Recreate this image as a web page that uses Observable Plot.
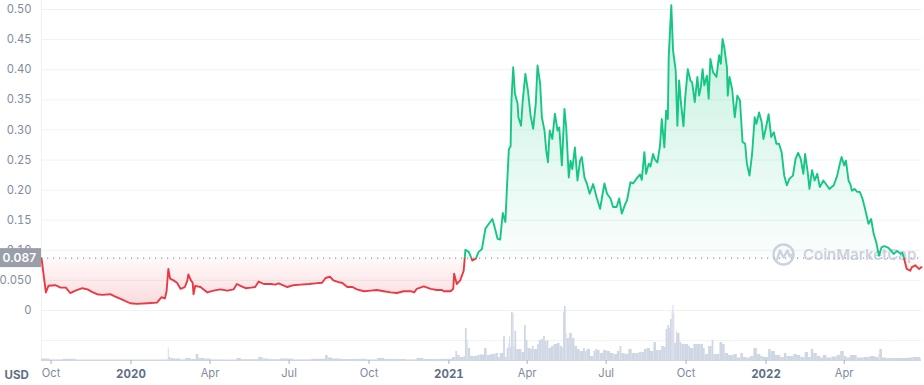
<!DOCTYPE html>
<html><head><meta charset="utf-8">
<script src="https://cdn.jsdelivr.net/npm/d3@7"></script>
<script src="https://cdn.jsdelivr.net/npm/@observablehq/plot@0.6"></script>
<style>
html,body{margin:0;padding:0;background:#fff;}
#chart svg{display:block;}
</style></head><body><div id="chart"></div>
<script>
// ---------- data ----------
const startDate = "2019-09-20";
const endDate = "2022-06-29";
// days since startDate
const priceDay = [0,5,8,16,22,28,33,39,47,53,58,64,70,79,85,93,102,110,122,133,138,142,144,146,148,152,156,160,165,168,169,172,174,175,177,183,191,198,206,214,221,225,229,235,241,246,250,256,264,269,273,283,290,298,308,315,323,327,332,336,342,346,352,358,363,371,379,386,394,402,409,417,425,429,432,440,448,455,461,463,471,474,475,478,482,486,488,492,496,500,503,507,511,515,519,521,525,528,531,534,536,538,540,541,543,545,548,549,552,554,557,560,563,566,569,571,574,576,579,581,583,585,588,591,594,596,599,602,604,607,609,611,614,617,620,622,625,628,631,635,639,643,648,651,655,658,662,665,668,672,674,678,681,685,689,691,694,696,699,701,704,706,709,712,714,717,719,721,722,725,727,730,732,734,736,739,741,744,747,749,752,755,757,759,761,763,766,768,770,773,777,780,782,784,786,789,790,792,795,798,801,804,807,810,812,815,818,821,823,826,829,831,834,837,840,843,846,849,852,855,858,861,865,868,871,874,877,879,882,884,887,890,893,896,900,904,907,912,916,919,921,924,926,929,931,933,936,939,942,945,948,952,955,958,961,964,967,970,974,977,981,985,989,991,993,996,1000,1002,1006,1010,1013];
const priceUsd = [0.087,0.030,0.041,0.042,0.038,0.038,0.029,0.033,0.037,0.035,0.031,0.027,0.026,0.027,0.023,0.018,0.012,0.011,0.012,0.013,0.022,0.020,0.032,0.069,0.053,0.050,0.046,0.036,0.039,0.050,0.060,0.050,0.046,0.027,0.041,0.039,0.030,0.033,0.035,0.033,0.035,0.044,0.041,0.037,0.038,0.039,0.048,0.044,0.044,0.043,0.045,0.039,0.042,0.043,0.044,0.045,0.046,0.054,0.056,0.050,0.047,0.046,0.039,0.039,0.035,0.032,0.033,0.034,0.032,0.030,0.029,0.032,0.032,0.030,0.036,0.040,0.036,0.034,0.034,0.032,0.032,0.036,0.061,0.044,0.050,0.066,0.101,0.097,0.083,0.086,0.097,0.102,0.136,0.144,0.152,0.142,0.119,0.118,0.162,0.147,0.210,0.268,0.273,0.349,0.404,0.360,0.344,0.321,0.307,0.349,0.393,0.365,0.324,0.302,0.344,0.407,0.377,0.321,0.299,0.266,0.246,0.299,0.285,0.327,0.299,0.304,0.241,0.335,0.304,0.221,0.249,0.235,0.271,0.216,0.249,0.255,0.221,0.210,0.194,0.210,0.188,0.169,0.211,0.194,0.186,0.172,0.172,0.186,0.161,0.177,0.183,0.213,0.211,0.219,0.226,0.217,0.263,0.227,0.244,0.239,0.260,0.251,0.246,0.274,0.318,0.271,0.332,0.318,0.421,0.507,0.432,0.399,0.307,0.382,0.346,0.306,0.354,0.401,0.382,0.379,0.346,0.388,0.357,0.371,0.401,0.374,0.390,0.352,0.418,0.396,0.388,0.424,0.410,0.451,0.437,0.404,0.357,0.388,0.368,0.321,0.357,0.349,0.280,0.277,0.244,0.224,0.260,0.321,0.310,0.329,0.313,0.285,0.304,0.326,0.288,0.296,0.277,0.277,0.263,0.224,0.208,0.219,0.224,0.252,0.262,0.252,0.227,0.260,0.230,0.202,0.233,0.216,0.227,0.205,0.216,0.208,0.202,0.208,0.224,0.244,0.255,0.241,0.249,0.216,0.210,0.199,0.202,0.197,0.197,0.186,0.169,0.144,0.152,0.127,0.113,0.091,0.105,0.107,0.105,0.101,0.094,0.099,0.094,0.096,0.086,0.069,0.066,0.072,0.075,0.069,0.072];
const volumeDay = [0,10,25,40,70,100,130,143,146,147,149,152,160,166,172,178,181,188,195,210,225,230,250,255,262,275,290,311,327,330,335,345,364,375,387,395,420,432,440,459,473,477,479,482,486,488,490,491,494,498,502,505,510,513,517,523,526,528,532,534,536,538,539,540,541,543,544,545,547,549,553,556,558,560,563,565,567,571,573,576,578,580,582,584,587,590,594,597,600,601,602,604,605,608,611,614,617,620,624,626,628,632,636,638,640,643,647,651,655,659,663,666,668,672,676,680,684,688,691,694,697,701,705,708,711,714,717,719,721,723,724,726,727,728,729,731,732,735,737,741,745,747,751,755,759,762,764,768,772,774,778,781,784,787,791,797,801,805,808,812,816,820,824,828,831,837,840,845,851,855,858,866,870,874,879,883,886,889,893,897,900,904,910,916,920,924,927,931,939,947,954,960,964,965,968,973,981,989,997,1003,1012];
// millions of USD
const volumeUsdM = [15,6,12,5,5,5,5,6,125,30,20,15,6,20,10,60,20,15,6,5,20,8,30,15,8,15,6,12,50,25,15,10,12,6,20,10,6,20,10,12,30,90,50,30,35,320,200,120,40,40,50,55,120,50,60,70,30,70,240,30,120,170,240,130,480,460,140,290,110,110,80,350,200,120,110,140,110,160,200,210,240,190,200,120,140,160,170,140,120,480,540,270,220,270,220,140,110,90,120,90,110,40,90,110,100,70,100,90,70,60,90,140,70,60,110,70,70,80,80,110,120,90,180,100,100,140,130,310,350,320,410,490,550,470,170,290,270,180,160,160,140,120,160,160,160,120,60,140,200,60,60,180,160,70,50,60,25,70,30,25,40,120,60,40,30,110,90,50,30,70,40,60,50,30,80,30,110,70,40,25,50,25,35,50,90,40,25,50,25,30,40,30,60,110,25,20,20,20,25,30,15];
const baselinePrice = 0.087;
const yTickValues = [-0.05,0,0.05,0.10,0.15,0.20,0.25,0.30,0.35,0.40,0.45,0.50];
const yTickLabels = ["","0","0.050","0.10","0.15","0.20","0.25","0.30","0.35","0.40","0.45","0.50"];
const monthTickDates = ["2019-10-01","2020-04-01","2020-07-01","2020-10-01","2021-04-01","2021-07-01","2021-10-01","2022-04-01"];
const monthTickLabels = ["Oct","Apr","Jul","Oct","Apr","Jul","Oct","Apr"];
const yearTickDates = ["2020-01-01","2021-01-01","2022-01-01"];
const yearTickLabels = ["2020","2021","2022"];
const currencyLabel = "USD";
const watermarkText = "CoinMarketCap";

// ---------- build ----------
const parse = d3.utcParse("%Y-%m-%d");
const t0 = parse(startDate);
const price = priceDay.map((d, i) => ({date: d3.utcDay.offset(t0, d), value: priceUsd[i]}));
const volume = volumeDay.map((d, i) => ({
  x1: d3.utcDay.offset(t0, d),
  x2: d3.utcDay.offset(t0, i + 1 < volumeDay.length ? volumeDay[i + 1] : d + 1),
  v: volumeUsdM[i]
}));
const yMin = -0.0831, yMax = 0.515;
// volume band sits under the price axis: 600 M USD spans 0.1 price units
const volToY = d3.scaleLinear().domain([0, 600]).range([yMin, yMin + 0.1]);

const yLabelMap = new Map(yTickValues.map((v, i) => [Math.round(v * 1000), yTickLabels[i]]));
const monthMap = new Map(monthTickDates.map((d, i) => [+parse(d), monthTickLabels[i]]));
const yearMap = new Map(yearTickDates.map((d, i) => [+parse(d), yearTickLabels[i]]));

const GREEN = "#16c784", RED = "#ea3943";
const FONT = "Inter, 'Noto Sans', sans-serif";

const plot = Plot.plot({
  width: 924, height: 385,
  marginLeft: 41, marginRight: 3, marginTop: 0, marginBottom: 25,
  style: {fontFamily: FONT, fontSize: "11px", background: "#fff", overflow: "visible"},
  x: {type: "utc", domain: [parse(startDate), parse(endDate)], axis: null},
  y: {domain: [yMin, yMax], axis: null},
  marks: [
    Plot.ruleY(yTickValues, {stroke: "#eff2f5", strokeWidth: 1}),
    Plot.ruleX([parse(startDate)], {stroke: "#eff2f5"}),
    Plot.rect(volume, {x1: "x1", x2: "x2", y1: yMin, y2: d => volToY(d.v), fill: "#cfd6e4"}),
    Plot.areaY(price, {x: "date", y1: baselinePrice, y2: "value", fill: "url(#gradGreen)"}),
    Plot.areaY(price, {x: "date", y1: baselinePrice, y2: "value", fill: "url(#gradRed)"}),
    Plot.ruleY([baselinePrice], {stroke: "#8d96a8", strokeDasharray: "1.2,4.8", strokeWidth: 1.2}),
    Plot.lineY(price, {x: "date", y: "value", stroke: GREEN, strokeWidth: 1.9}),
    Plot.lineY(price, {x: "date", y: "value", stroke: RED, strokeWidth: 1.9}),
    Plot.ruleY([yMin], {stroke: "#cfd6e4", strokeWidth: 1.2}),
    Plot.axisY(yTickValues, {tickSize: 0, tickPadding: 10, label: null,
      tickFormat: v => yLabelMap.get(Math.round(v * 1000)), fill: "#808a9d", fontSize: 11.2}),
    Plot.axisX(monthTickDates.map(parse), {tickSize: 4, tickPadding: 5, label: null,
      tickFormat: d => monthMap.get(+d), fill: "#808a9d", stroke: "#a6b0c3", fontSize: 11.2}),
    Plot.axisX(yearTickDates.map(parse), {tickSize: 4, tickPadding: 5, label: null,
      tickFormat: d => yearMap.get(+d), fill: "#616e85", stroke: "#a6b0c3", fontSize: 11.5, fontWeight: "bold"}),
    Plot.text([currencyLabel], {frameAnchor: "bottom-left", dx: -37, dy: 14.5, textAnchor: "start",
      lineAnchor: "middle", fill: "#616e85", fontWeight: "bold", fontSize: 11.5})
  ]
});

document.getElementById("chart").appendChild(plot);

// ---------- decoration: gradients, clipping, badge, watermark ----------
const svg = d3.select(plot);
const yS = plot.scale("y");
const py = yS.apply(baselinePrice);
const pZero = yS.apply(0);
const pTop = yS.apply(0.5);
const defs = svg.insert("defs", ":first-child");
const gG = defs.append("linearGradient").attr("id", "gradGreen").attr("gradientUnits", "userSpaceOnUse")
  .attr("x1", 0).attr("x2", 0).attr("y1", pTop).attr("y2", py);
gG.append("stop").attr("offset", 0).attr("stop-color", GREEN).attr("stop-opacity", 0.26);
gG.append("stop").attr("offset", 1).attr("stop-color", GREEN).attr("stop-opacity", 0.02);
const gR = defs.append("linearGradient").attr("id", "gradRed").attr("gradientUnits", "userSpaceOnUse")
  .attr("x1", 0).attr("x2", 0).attr("y1", py).attr("y2", pZero);
gR.append("stop").attr("offset", 0).attr("stop-color", RED).attr("stop-opacity", 0.03);
gR.append("stop").attr("offset", 1).attr("stop-color", RED).attr("stop-opacity", 0.2);
defs.append("clipPath").attr("id", "clipAbove").append("rect")
  .attr("x", 0).attr("y", -20).attr("width", 924).attr("height", py + 20);
defs.append("clipPath").attr("id", "clipBelow").append("rect")
  .attr("x", 0).attr("y", py).attr("width", 924).attr("height", 385 - py);

const areas = svg.selectAll('g[aria-label="area"]').nodes();
const lines = svg.selectAll('g[aria-label="line"]').nodes();
if (areas.length === 2) { d3.select(areas[0]).attr("clip-path", "url(#clipAbove)"); d3.select(areas[1]).attr("clip-path", "url(#clipBelow)"); }
if (lines.length === 2) { d3.select(lines[0]).attr("clip-path", "url(#clipAbove)"); d3.select(lines[1]).attr("clip-path", "url(#clipBelow)"); }

// watermark (drawn beneath the price line)
const wm = (lines.length ? svg.insert("g", () => lines[0]) : svg.append("g"))
  .attr("opacity", 0.7).attr("text-anchor", "start");
wm.append("circle").attr("cx", 783.5).attr("cy", 254.5).attr("r", 10).attr("fill", "none")
  .attr("stroke", "#b9c1d0").attr("stroke-width", 2.4);
wm.append("path").attr("d", "M777,259.5 L780,250.5 L783.5,257.5 L787.5,250.5 L789.8,256.5 L792.3,254.5")
  .attr("fill", "none").attr("stroke", "#b9c1d0").attr("stroke-width", 2.3).attr("stroke-linejoin", "round").attr("stroke-linecap", "round");
wm.append("text").attr("x", 803).attr("y", 254.5).attr("dy", "0.36em").attr("fill", "#b9c1d0")
  .attr("text-anchor", "start").attr("font-family", FONT).attr("font-size", 15).attr("font-weight", 600)
  .text(watermarkText);

// current-price badge on the y axis
const badge = svg.append("g").attr("text-anchor", "start");
badge.append("rect").attr("x", 0).attr("y", py - 9.5).attr("width", 41).attr("height", 19)
  .style("fill", "#999ea8");
badge.append("text").attr("x", 2.5).attr("y", py).attr("dy", "0.36em").attr("text-anchor", "start")
  .style("fill", "#ffffff").attr("font-family", FONT)
  .attr("font-size", 12).attr("font-weight", 600).text(String(baselinePrice));
</script>
</body></html>
